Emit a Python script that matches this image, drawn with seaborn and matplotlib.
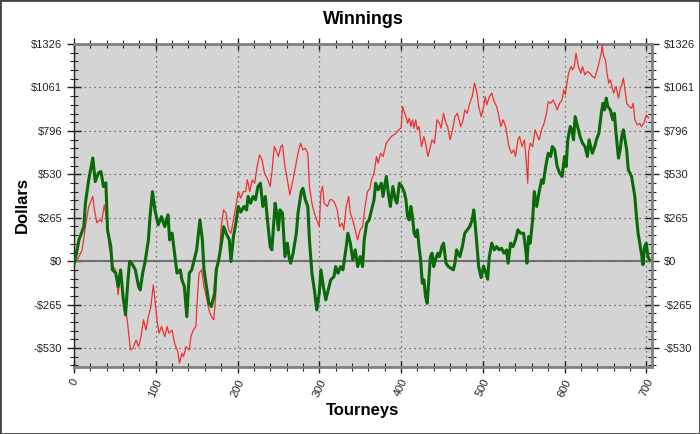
import numpy as np
import pandas as pd
import matplotlib
matplotlib.use("Agg")
import matplotlib.pyplot as plt
import seaborn as sns
from matplotlib.ticker import MultipleLocator, FixedLocator, FuncFormatter
from matplotlib.patches import Rectangle

# Green series (tourney, dollars)
green_t = [0, 5, 6, 12, 14, 18, 23, 26, 30, 33, 36, 39, 41, 45, 47, 51, 54, 57, 60, 63,
           66, 68, 71, 75, 79, 81, 84, 87, 91, 93, 96, 99, 103, 107, 111, 115, 117, 120, 124, 126,
           130, 132, 135, 138, 141, 144, 147, 150, 154, 157, 159, 162, 165, 168, 172, 174, 177, 181, 183, 186,
           190, 192, 195, 198, 201, 204, 208, 211, 213, 216, 219, 222, 225, 228, 231, 234, 237, 240, 242, 244,
           246, 248, 250, 252, 255, 258, 261, 263, 265, 268, 272, 274, 278, 280, 283, 286, 288, 291, 294, 297,
           300, 302, 305, 308, 311, 314, 318, 320, 323, 326, 329, 333, 335, 338, 341, 344, 347, 350, 353, 355,
           358, 361, 364, 367, 369, 372, 376, 378, 382, 385, 387, 390, 393, 395, 398, 401, 404, 406, 408, 410,
           412, 414, 416, 418, 420, 422, 424, 426, 428, 430, 432, 434, 436, 438, 440, 442, 445, 447, 450, 452,
           455, 458, 461, 464, 466, 468, 472, 475, 478, 481, 484, 487, 489, 491, 493, 495, 498, 501, 503, 506,
           508, 511, 514, 517, 520, 523, 526, 529, 531, 534, 537, 540, 543, 546, 550, 553, 554, 556, 558, 561,
           563, 566, 569, 572, 574, 577, 580, 583, 585, 588, 591, 594, 597, 600, 602, 604, 607, 609, 611, 613,
           615, 617, 619, 622, 625, 628, 630, 632, 634, 637, 639, 642, 645, 647, 649, 651, 653, 656, 659, 661,
           663, 666, 668, 670, 672, 674, 676, 678, 680, 682, 684, 686, 688, 690, 692, 694, 696, 698, 700, 702,
           704]
green_v = [-20, 100, 130, 211, 356, 497, 630, 486, 540, 547, 456, 478, 191, 89, -53, -72, -155, -53, -216, -328,
           -114, -2, -15, -53, -155, -175, -72, -2, 130, 272, 425, 313, 222, 272, 211, 283, 130, 171, 8, -73,
           -53, -114, -155, -338, -73, -53, 8, 69, 252, 130, -53, -155, -257, -277, -196, -53, 8, 130, 211, 171,
           130, -2, 150, 232, 334, 300, 334, 313, 395, 354, 395, 375, 456, 476, 334, 395, 232, 89, 69, 211,
           354, 293, 191, 313, 293, 28, 110, 28, -12, 49, 171, 293, 425, 445, 375, 334, 130, -73, -175, -297,
           -196, -53, -155, -236, -175, -114, -94, -33, -73, -33, -53, 89, 171, 110, 8, 69, -33, 28, -33, 130,
           232, 252, 313, 375, 476, 436, 476, 395, 517, 395, 334, 456, 375, 354, 476, 456, 420, 375, 272, 252,
           334, 272, 171, 150, 191, 89, 8, -134, -114, -216, -257, -114, 28, 49, -33, 8, 49, 28, 89, 110,
           -12, -33, -43, -53, -12, 69, 28, 89, 171, 191, 211, 252, 313, 211, 89, -33, -100, -30, -60, -110,
           28, 110, 69, 89, 69, 79, 49, 69, -12, 110, 89, 130, 191, 171, 171, 49, -12, 150, 110, 252,
           425, 334, 425, 497, 476, 578, 659, 639, 700, 680, 578, 538, 517, 639, 578, 741, 822, 802, 741, 883,
           842, 802, 761, 720, 700, 639, 741, 700, 659, 700, 741, 781, 903, 964, 924, 995, 944, 924, 863, 903,
           781, 629, 680, 761, 802, 741, 680, 558, 538, 517, 456, 395, 272, 171, 110, 49, -22, 89, 110, 28,
           8]

# Red series (tourney, dollars)
red_t = [0, 4, 10, 14, 18, 23, 25, 28, 31, 34, 37, 40, 43, 48, 51, 54, 57, 60, 63, 66,
         69, 72, 76, 79, 82, 85, 88, 91, 94, 97, 99, 102, 104, 107, 111, 114, 116, 120, 123, 127,
         129, 132, 134, 137, 141, 143, 146, 149, 151, 153, 156, 159, 161, 165, 168, 171, 173, 175, 178, 180,
         183, 186, 189, 192, 195, 198, 201, 204, 207, 210, 212, 215, 218, 221, 224, 227, 230, 233, 237, 240,
         242, 245, 247, 250, 253, 255, 258, 261, 264, 267, 271, 274, 277, 280, 283, 286, 288, 291, 294, 297,
         300, 302, 304, 306, 310, 313, 316, 319, 322, 325, 328, 330, 333, 336, 338, 341, 344, 347, 350, 353,
         356, 359, 362, 364, 367, 370, 372, 375, 378, 382, 385, 388, 391, 394, 397, 400, 402, 404, 406, 408,
         410, 412, 414, 416, 418, 420, 422, 425, 428, 430, 433, 435, 438, 441, 444, 447, 449, 452, 455, 457,
         460, 463, 466, 469, 473, 476, 478, 481, 484, 487, 490, 493, 495, 498, 501, 503, 505, 508, 511, 514,
         517, 519, 522, 525, 528, 530, 532, 535, 538, 540, 543, 545, 548, 551, 553, 555, 556, 558, 561, 564,
         567, 569, 572, 575, 578, 580, 583, 586, 588, 591, 594, 597, 599, 601, 603, 605, 608, 610, 612, 614,
         617, 620, 622, 625, 628, 631, 634, 637, 640, 643, 645, 646, 648, 650, 652, 654, 656, 658, 660, 663,
         666, 668, 670, 672, 674, 676, 679, 682, 684, 686, 689, 692, 694, 697, 700, 703]
red_v = [-10, 8, 69, 211, 334, 395, 313, 234, 252, 241, 344, 252, 89, -33, -53, -206, -72, -226, -277, -399,
         -542, -532, -481, -522, -460, -358, -420, -338, -277, -145, -236, -379, -440, -399, -460, -399, -440, -420, -501, -552,
         -623, -562, -583, -522, -542, -460, -420, -399, -216, -73, -53, -155, -196, -297, -338, -358, -236, -33, 49, 211,
         313, 293, 191, 171, 252, 334, 425, 385, 425, 425, 497, 425, 497, 476, 578, 649, 619, 538, 497, 456,
         538, 700, 680, 639, 700, 710, 578, 497, 405, 476, 578, 659, 720, 680, 690, 659, 456, 354, 293, 252,
         211, 420, 456, 354, 334, 375, 375, 354, 313, 211, 232, 191, 334, 395, 293, 252, 191, 130, 191, 211,
         334, 425, 445, 497, 538, 639, 598, 659, 639, 720, 741, 761, 771, 781, 802, 812, 944, 910, 883, 842,
         873, 822, 863, 812, 863, 802, 822, 700, 761, 720, 639, 680, 741, 720, 863, 842, 812, 903, 842, 822,
         741, 802, 883, 903, 822, 863, 924, 903, 964, 1004, 1087, 1026, 944, 883, 944, 1004, 954, 1004, 1026, 974,
         944, 903, 822, 863, 822, 761, 700, 659, 680, 639, 741, 761, 700, 741, 619, 476, 659, 720, 700, 802,
         761, 741, 802, 842, 903, 974, 964, 985, 964, 924, 964, 985, 1046, 1016, 1087, 1148, 1189, 1168, 1189, 1270,
         1189, 1148, 1189, 1138, 1158, 1148, 1128, 1118, 1168, 1230, 1270, 1321, 1250, 1230, 1148, 1087, 1107, 1067, 1026, 1067,
         995, 1046, 1077, 1118, 1046, 964, 944, 934, 964, 863, 832, 842, 822, 842, 893, 873]

# y axis is split into steps of a fifth of the max
y_max = 1326
y_step = y_max / 5
y_ticks = [y_step * k for k in range(-2, 6)]

green_df = pd.DataFrame({"Tourneys": green_t, "Dollars": green_v})
red_df = pd.DataFrame({"Tourneys": red_t, "Dollars": red_v})

sns.set_style("white")
plt.rcParams["font.family"] = ["Liberation Sans", "DejaVu Sans"]
plt.rcParams["text.color"] = "black"

fig = plt.figure(figsize=(7, 4.34), dpi=100)
ax = fig.add_axes([74 / 700, 1 - 367 / 434, (652 - 74) / 700, (367 - 44) / 434])
ax.set_facecolor("#d4d4d4")

ax.axhline(0, color="#707070", lw=1.5, zorder=1)
sns.lineplot(data=red_df, x="Tourneys", y="Dollars", color="#f03030", lw=0.9, ax=ax, zorder=3)
sns.lineplot(data=green_df, x="Tourneys", y="Dollars", color="#0a6a0a", lw=2.2, ax=ax, zorder=4)

ax.set_xlim(0, 707)
ax.set_ylim(-646, y_max)

ax.xaxis.set_major_locator(MultipleLocator(100))
ax.xaxis.set_minor_locator(MultipleLocator(20))
ax.yaxis.set_major_locator(FixedLocator(y_ticks))
ax.yaxis.set_minor_locator(MultipleLocator(y_step / 5))


def money(v, pos):
    v = int(round(v))
    return "-$%d" % abs(v) if v < 0 else "$%d" % v


ax.yaxis.set_major_formatter(FuncFormatter(money))
ax.grid(True, which="major", color="#555555", linestyle=(0, (1, 3)), lw=0.9)
ax.set_axisbelow(True)

ax.tick_params(axis="y", which="both", left=True, right=True, labelright=True,
               direction="inout", labelsize=8, colors="#222222")
ax.tick_params(axis="y", which="major", length=10, width=1)
ax.tick_params(axis="y", which="minor", length=6, width=0.8)
ax.tick_params(axis="x", which="both", bottom=True, top=True, direction="inout",
               labelsize=8, colors="#222222")
ax.tick_params(axis="x", which="major", length=8, width=1)
ax.tick_params(axis="x", which="minor", length=6, width=0.8)
plt.setp(ax.get_xticklabels(), rotation=65, ha="center")

for s in ["top", "bottom", "right"]:
    ax.spines[s].set_color("#808080")
    ax.spines[s].set_linewidth(2)
ax.spines["left"].set_color("#222222")
ax.spines["left"].set_linewidth(1)

ax.set_xlabel("")
ax.set_ylabel("")
fig.text(363 / 700, 1 - 20 / 434, "Winnings", ha="center", va="center",
         fontsize=13, fontweight="bold", color="black")
fig.text(22 / 700, 1 - 205 / 434, "Dollars", ha="center", va="center",
         rotation=90, fontsize=12, fontweight="bold", color="black")
fig.text(363 / 700, 1 - 411 / 434, "Tourneys", ha="center", va="center",
         fontsize=12, fontweight="bold", color="black")

fig.patches.append(Rectangle((0, 0), 1, 1, transform=fig.transFigure, fill=False,
                             edgecolor="#444444", lw=2))

fig.savefig("out.png", dpi=100)
